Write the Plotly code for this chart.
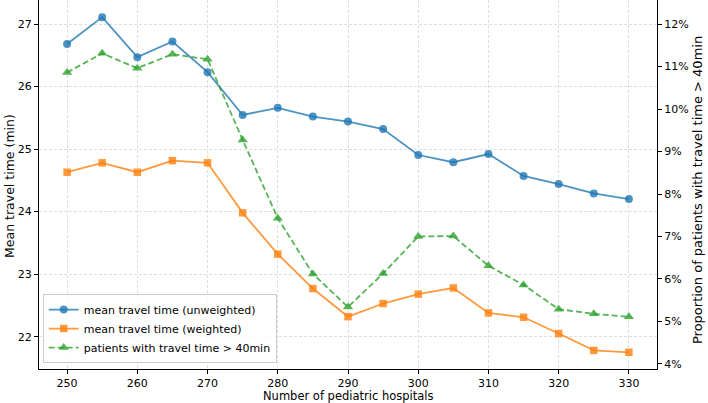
import plotly.graph_objects as go

hospitals = [250, 255, 260, 265, 270, 275, 280, 285, 290, 295, 300, 305, 310, 315, 320, 325, 330]
mean_unweighted = [26.68, 27.11, 26.47, 26.72, 26.23, 25.545, 25.66, 25.52, 25.44, 25.32, 24.905, 24.79, 24.92, 24.57, 24.44, 24.29, 24.20]
mean_weighted = [24.63, 24.78, 24.63, 24.815, 24.78, 23.98, 23.32, 22.77, 22.32, 22.53, 22.68, 22.78, 22.38, 22.31, 22.05, 21.78, 21.75]
pct_over_40 = [10.86, 11.31, 10.96, 11.29, 11.17, 9.27, 7.43, 6.12, 5.34, 6.13, 7.00, 7.01, 6.31, 5.86, 5.29, 5.18, 5.11]

x_ticks = [250, 260, 270, 280, 290, 300, 310, 320, 330]
left_ticks = [22, 23, 24, 25, 26, 27]
right_ticks = [4, 5, 6, 7, 8, 9, 10, 11, 12]
right_tick_labels = [f"{v}%" for v in right_ticks]

blue = "rgba(31,119,180,0.8)"
orange = "rgba(255,127,14,0.8)"
green = "rgba(44,160,44,0.8)"
FONT = "DejaVu Sans"

fig = go.Figure()
fig.add_trace(go.Scatter(x=hospitals, y=mean_unweighted, mode="lines+markers",
                         name="mean travel time (unweighted)",
                         line=dict(color=blue, width=1.8),
                         marker=dict(symbol="circle", size=8, color=blue)))
fig.add_trace(go.Scatter(x=hospitals, y=mean_weighted, mode="lines+markers",
                         name="mean travel time (weighted)",
                         line=dict(color=orange, width=1.8),
                         marker=dict(symbol="square", size=7.5, color=orange)))
fig.add_trace(go.Scatter(x=hospitals, y=pct_over_40, mode="lines+markers",
                         name="patients with travel time > 40min", yaxis="y2",
                         line=dict(color=green, width=1.8, dash="6px,3px"),
                         marker=dict(symbol="triangle-up", size=9, color=green)))

axis_common = dict(showline=True, linecolor="black", linewidth=1, ticks="outside",
                   ticklen=4, tickcolor="black", tickfont=dict(family=FONT, size=11, color="black"))

fig.update_layout(
    width=708, height=403,
    margin=dict(l=39, r=51, t=0, b=34),
    paper_bgcolor="white", plot_bgcolor="white",
    font=dict(family=FONT, size=11, color="black"),
    showlegend=True,
    legend=dict(x=0.006, y=0.016, xanchor="left", yanchor="bottom",
                bgcolor="rgba(255,255,255,0.8)", bordercolor="#cccccc", borderwidth=1,
                font=dict(family=FONT, size=11, color="black"), tracegroupgap=0,
                itemwidth=30),
    xaxis=dict(range=[246, 334], tickvals=x_ticks, mirror=True,
               showgrid=True, gridcolor="#dedede", griddash="3px,2px", gridwidth=0.8,
               zeroline=False, **axis_common),
    yaxis=dict(range=[21.483, 27.384], tickvals=left_ticks,
               showgrid=True, gridcolor="#dedede", griddash="3px,2px", gridwidth=0.8,
               zeroline=False, **axis_common),
    yaxis2=dict(range=[3.882, 12.565], tickvals=right_ticks, ticktext=right_tick_labels,
                overlaying="y", side="right", showgrid=False, zeroline=False,
                **axis_common),
    annotations=[
        dict(text="Mean travel time (min)", xref="paper", yref="paper",
             x=(10 - 39) / 618, y=0.496, xanchor="center", yanchor="middle",
             textangle=-90, showarrow=False,
             font=dict(family=FONT, size=12.5, color="black")),
        dict(text="Proportion of patients with travel time > 40min", xref="paper", yref="paper",
             x=(697 - 39) / 618, y=0.485, xanchor="center", yanchor="middle",
             textangle=-90, showarrow=False,
             font=dict(family=FONT, size=13, color="black")),
        dict(text="Number of pediatric hospitals", xref="paper", yref="paper",
             x=0.5, y=-(396 - 369) / 369, xanchor="center", yanchor="middle",
             showarrow=False,
             font=dict(family=FONT, size=11.5, color="black")),
    ],
)

fig.write_html("out.html")
